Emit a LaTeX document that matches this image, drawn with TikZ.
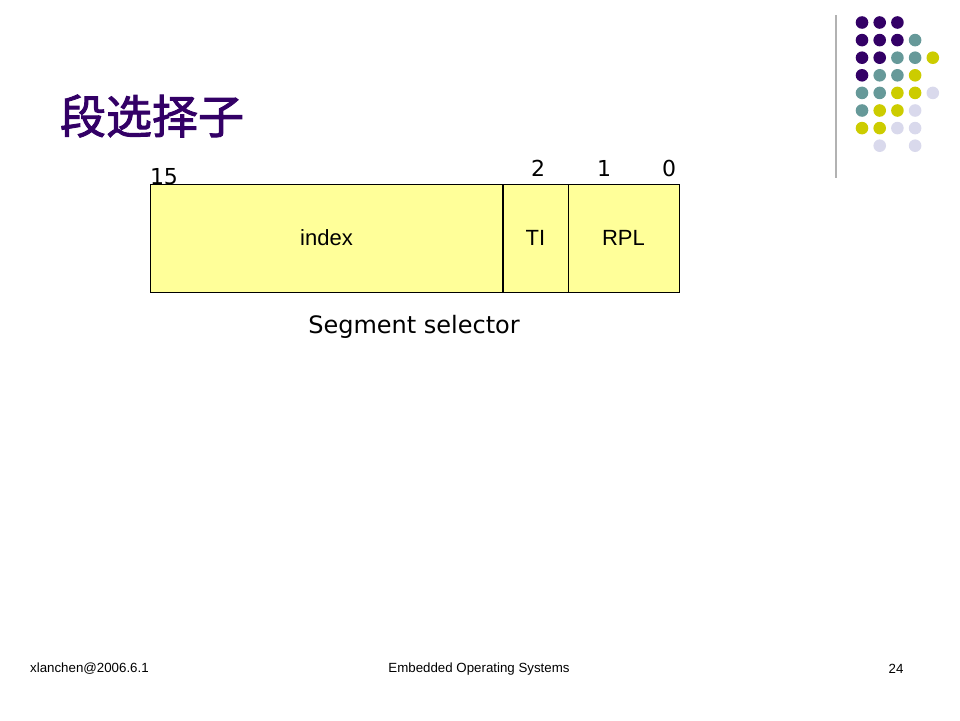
\documentclass[tikz,border=0pt]{standalone}
\usepackage{fontspec}
\setmainfont{Liberation Sans}
\newfontfamily\cjk[FakeBold=2]{Noto Sans CJK SC}
\newfontfamily\verd{DejaVu Sans}
\usepackage{xcolor}
\definecolor{dotpurple}{HTML}{330066}
\definecolor{dotteal}{HTML}{669999}
\definecolor{dotyellow}{HTML}{CCCC00}
\definecolor{dotlav}{HTML}{D9D9EC}
\definecolor{fieldfill}{HTML}{FFFF99}

\begin{document}
\begin{tikzpicture}[x=1pt,y=-1pt]
\useasboundingbox (0,0) rectangle (960,720);
% decoration, top right
\draw[gray!60, line width=1.2pt] (836,15) -- (836,178);
\foreach \c/\r/\col in {0/0/dotpurple,1/0/dotpurple,2/0/dotpurple,
  0/1/dotpurple,1/1/dotpurple,2/1/dotpurple,3/1/dotteal,
  0/2/dotpurple,1/2/dotpurple,2/2/dotteal,3/2/dotteal,4/2/dotyellow,
  0/3/dotpurple,1/3/dotteal,2/3/dotteal,3/3/dotyellow,
  0/4/dotteal,1/4/dotteal,2/4/dotyellow,3/4/dotyellow,4/4/dotlav,
  0/5/dotteal,1/5/dotyellow,2/5/dotyellow,3/5/dotlav,
  0/6/dotyellow,1/6/dotyellow,2/6/dotlav,3/6/dotlav,
  1/7/dotlav,3/7/dotlav}
  \fill[\col] (862+17.7*\c, 22.5+17.6*\r) circle (6.3);
% title
\node[text=dotpurple, font=\cjk\fontsize{46}{52}\selectfont] (title) at (152,116) {段选择子};
% selector fields
\draw[line width=1pt, fill=fieldfill] (150,184) rectangle (503,292) node[pos=.5, font=\fontsize{22}{26}\selectfont] (index) {index};
\draw[line width=1pt, fill=fieldfill] (503,184) rectangle (568,292) node[pos=.5, font=\fontsize{22}{26}\selectfont] (ti) {TI};
\draw[line width=1pt, fill=fieldfill] (568,184) rectangle (679,292) node[pos=.5, font=\fontsize{22}{26}\selectfont] (rpl) {RPL};
\draw[line width=2pt] (503,184) -- (503,292);
% bit numbers
\node[font=\verd\fontsize{22}{26}\selectfont] (b15) at (164,177) {15};
\node[font=\verd\fontsize{22}{26}\selectfont] (b2) at (538,168) {2};
\node[font=\verd\fontsize{22}{26}\selectfont] (b1) at (604,168) {1};
\node[font=\verd\fontsize{22}{26}\selectfont] (b0) at (669,168) {0};
\node[font=\verd\fontsize{24}{28}\selectfont] (caption) at (414,327) {Segment selector};
% footer
\node[font=\fontsize{13.3}{15}\selectfont, anchor=west, inner sep=0pt] (author) at (30,669) {xlanchen@2006.6.1};
\node[font=\fontsize{13.3}{15}\selectfont] (course) at (479,669) {Embedded Operating Systems};
\node[font=\fontsize{13.3}{15}\selectfont] (page) at (896,669) {24};
\end{tikzpicture}
\end{document}
